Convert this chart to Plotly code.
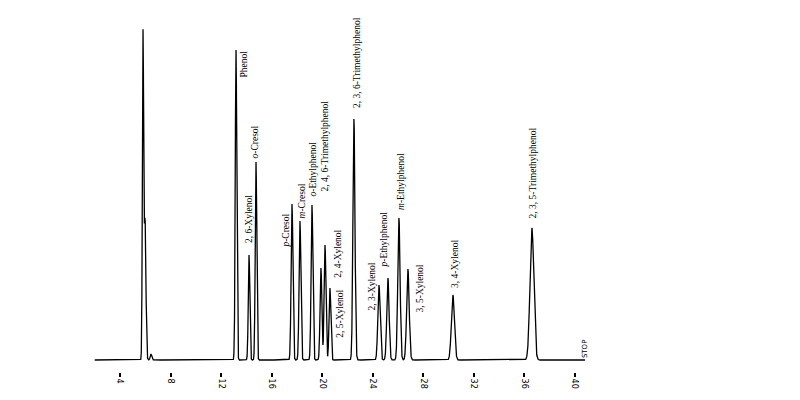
import numpy as np
import plotly.graph_objects as go

# Peak table (retention time in min, height, width sigma)
names = ["solvent", "solvent2", "bump", "Phenol", "2, 6-Xylenol", "<i>o</i>-Cresol", "<i>p</i>-Cresol",
         "<i>m</i>-Cresol", "<i>o</i>-Ethylphenol", "2, 4, 6-Trimethylphenol", "2, 4-Xylenol",
         "2, 5-Xylenol", "2, 3, 6-Trimethylphenol", "2, 3-Xylenol", "<i>p</i>-Ethylphenol",
         "<i>m</i>-Ethylphenol", "3, 5-Xylenol", "3, 4-Xylenol", "2, 3, 5-Trimethylphenol"]
rt = [5.82, 5.98, 6.45, 13.18, 14.21, 14.76, 17.61, 18.24, 19.19, 19.90, 20.22, 20.61,
      22.51, 24.49, 25.20, 26.07, 26.78, 30.34, 36.59]
heights = [320, 140, 6, 310, 105, 198, 156, 139, 155, 92, 115, 72, 241, 75, 82, 142, 91, 65, 132]
sigma = [0.05, 0.07, 0.06, 0.06, 0.06, 0.06, 0.07, 0.07, 0.07, 0.07, 0.07, 0.07,
         0.08, 0.09, 0.09, 0.09, 0.1, 0.12, 0.15]

# label placement (retention-time position, bottom of label)
label_x = [None, None, None, 13.74, 14.21, 14.68, 17.1, 18.4, 19.27, 20.22, 21.23, 21.39,
           22.72, 23.9, 24.85, 26.19, 27.7, 30.5, 36.67]
label_y = [None, None, None, 280, 115, 200, 110, 140, 162, 167, 80, 20,
           250, 47, 90, 148, 45, 70, 140]
ticks = [4, 8, 12, 16, 20, 24, 28, 32, 36, 40]

t = np.linspace(2.0, 40.8, 8000)
y = np.zeros_like(t)
for r, h, s in zip(rt, heights, sigma):
    y += h * np.exp(-0.5 * ((t - r) / s) ** 2)

fig = go.Figure(go.Scatter(x=t, y=y, mode="lines", line=dict(color="black", width=1.3),
                           hoverinfo="skip"))

for n, lx, ly in zip(names, label_x, label_y):
    if lx is None:
        continue
    fig.add_annotation(x=lx, y=ly, text=n, showarrow=False, textangle=-90,
                       xanchor="center", yanchor="bottom",
                       font=dict(family="Liberation Serif", size=9.5, color="black"))
fig.add_annotation(x=40.8, y=0, text="STOP", showarrow=False, textangle=-90,
                   xanchor="center", yanchor="bottom",
                   font=dict(family="DejaVu Sans", size=7, color="black"))

fig.update_layout(
    width=784, height=384, margin=dict(l=0, r=0, t=0, b=20),
    paper_bgcolor="white", plot_bgcolor="white", showlegend=False,
    xaxis=dict(range=[-4.861, 57.17], tickvals=ticks, ticktext=[str(v) for v in ticks],
               ticks="outside", ticklen=4, tickwidth=2, tickcolor="black",
               tickangle=90, tickfont=dict(family="DejaVu Sans", size=8, color="black"),
               showgrid=False, zeroline=False, showline=False),
    yaxis=dict(range=[-12, 352], visible=False),
)
fig.write_html("out.html")
